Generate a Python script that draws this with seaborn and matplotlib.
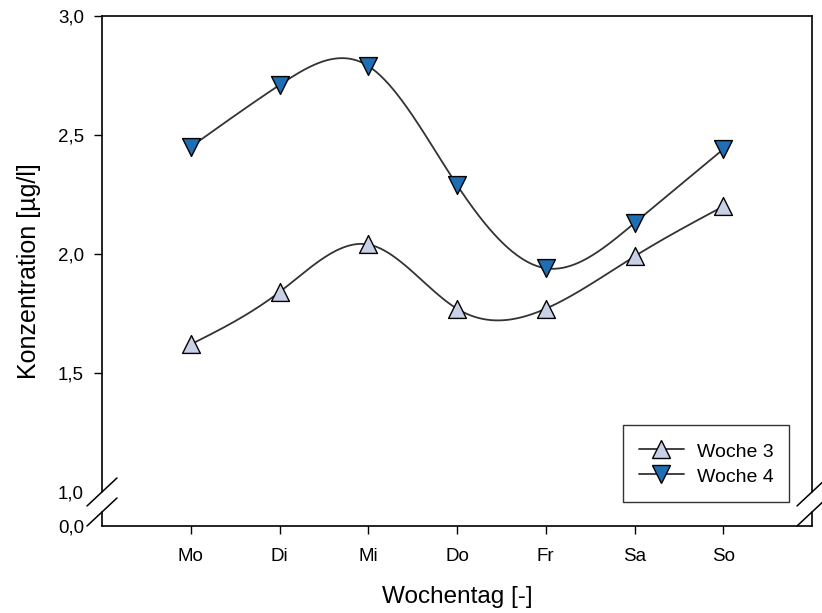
import numpy as np
import pandas as pd
import matplotlib
matplotlib.use("Agg")
import matplotlib.pyplot as plt
from matplotlib.lines import Line2D
import seaborn as sns

# ---- data ----
days = ["Mo", "Di", "Mi", "Do", "Fr", "Sa", "So"]
woche3 = [1.62, 1.84, 2.04, 1.77, 1.77, 1.99, 2.20]
woche4 = [2.45, 2.71, 2.79, 2.29, 1.94, 2.13, 2.44]
ytick_vals = [0.857, 1.0, 1.5, 2.0, 2.5, 3.0]
ytick_labels = ["0,0", "1,0", "1,5", "2,0", "2,5", "3,0"]
series_names = ["Woche 3", "Woche 4"]

sns.set_theme(style="white")
plt.rcParams["font.family"] = ["Liberation Sans", "DejaVu Sans"]
plt.rcParams["text.color"] = "black"
plt.rcParams["axes.labelcolor"] = "black"


def natural_spline(x, y, xs):
    x = np.asarray(x, float)
    y = np.asarray(y, float)
    n = len(x)
    h = np.diff(x)
    A = np.zeros((n, n))
    b = np.zeros(n)
    A[0, 0] = 1
    A[-1, -1] = 1
    for i in range(1, n - 1):
        A[i, i - 1] = h[i - 1]
        A[i, i] = 2 * (h[i - 1] + h[i])
        A[i, i + 1] = h[i]
        b[i] = 6 * ((y[i + 1] - y[i]) / h[i] - (y[i] - y[i - 1]) / h[i - 1])
    M = np.linalg.solve(A, b)
    out = np.empty_like(xs)
    for k, xv in enumerate(xs):
        i = min(max(np.searchsorted(x, xv) - 1, 0), n - 2)
        t1 = x[i + 1] - xv
        t0 = xv - x[i]
        out[k] = (M[i] * t1 ** 3 / (6 * h[i]) + M[i + 1] * t0 ** 3 / (6 * h[i])
                  + (y[i] / h[i] - M[i] * h[i] / 6) * t1
                  + (y[i + 1] / h[i] - M[i + 1] * h[i] / 6) * t0)
    return out


xpos = np.arange(1, len(days) + 1)
xs = np.linspace(1, len(days), 400)

fig = plt.figure(figsize=(8.22, 6.13), dpi=100)
ax = fig.add_axes([102 / 822, 1 - 526 / 613, 710 / 822, 510 / 613])

fills = ["#c9d1e8", "#1f6db3"]
markers = ["^", "v"]
for name, vals, fc, mk in zip(series_names, [woche3, woche4], fills, markers):
    curve = pd.DataFrame({"x": xs, "y": natural_spline(xpos, vals, xs)})
    sns.lineplot(data=curve, x="x", y="y", ax=ax, color="#333333", lw=1.3,
                 zorder=2, legend=False)
    pts = pd.DataFrame({"x": xpos, "y": vals})
    sns.scatterplot(data=pts, x="x", y="y", ax=ax, marker=mk, s=165,
                    color=fc, edgecolor="black", linewidth=1.0, zorder=3,
                    legend=False)

ymin, ymax = 0.857, 3.0
ax.set_xlim(0, 8)
ax.set_ylim(ymin, ymax)
ax.set_xticks(xpos)
ax.set_xticklabels(days, fontsize=13.5, color="black")
ax.set_yticks(ytick_vals)
ax.set_yticklabels(ytick_labels, fontsize=13.5, color="black")
ax.tick_params(axis="both", direction="out", length=6, width=1.0,
               color="black", labelcolor="black",
               left=True, bottom=True)
ax.tick_params(axis="y", pad=7)
ax.tick_params(axis="x", pad=10)
for i in (0, 1):
    ax.yaxis.get_major_ticks()[i].tick1line.set_visible(False)

ax.set_xlabel("Wochentag [-]", fontsize=17.5, labelpad=15, color="black")
ax.set_ylabel("Konzentration [µg/l]", fontsize=18, labelpad=12, color="black")

# spines with break
for s in ("left", "right"):
    ax.spines[s].set_visible(False)
for s in ("top", "bottom"):
    ax.spines[s].set_visible(True)
    ax.spines[s].set_color("black")
    ax.spines[s].set_linewidth(1.2)

H = 510.0
W = 710.0
def yf(v):
    return (v - ymin) / (ymax - ymin)

y_up = yf(1.0)
y_lo = 14.0 / H
dx = 15.0 / W
dy = 14.0 / H
for xa in (0.0, 1.0):
    ax.plot([xa, xa], [y_up, 1.0], transform=ax.transAxes, color="black",
            lw=1.2, clip_on=False, zorder=5)
    ax.plot([xa, xa], [0.0, y_lo], transform=ax.transAxes, color="black",
            lw=1.2, clip_on=False, zorder=5)
    for yc in (y_up, y_lo):
        ax.plot([xa - dx, xa + dx], [yc - dy, yc + dy], transform=ax.transAxes,
                color="black", lw=1.1, clip_on=False, zorder=5)

handles = [Line2D([0], [0], color="#333333", lw=1.3, marker=mk, markersize=12.5,
                  markerfacecolor=fc, markeredgecolor="black", markeredgewidth=1.0)
           for fc, mk in zip(fills, markers)]
leg = ax.legend(handles, series_names, loc="lower right",
                bbox_to_anchor=((789 - 102) / W, (526 - 502) / H),
                borderaxespad=0, fontsize=14, frameon=True, fancybox=False,
                handlelength=2.3, handleheight=1.2, handletextpad=0.67,
                labelspacing=0.25, borderpad=0.8)
leg.get_frame().set_edgecolor("black")
leg.get_frame().set_linewidth(1.0)
for t in leg.get_texts():
    t.set_color("black")

fig.savefig("out.png", dpi=100)
